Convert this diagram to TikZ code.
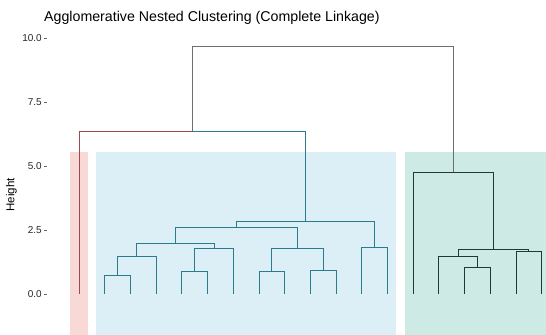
\documentclass[tikz,border=0pt]{standalone}
\usepackage{fontspec}
\setmainfont{Liberation Sans}
\usepackage{tikz}
\usetikzlibrary{calc}
\definecolor{kirmiziDal}{HTML}{9A4A50}
\definecolor{maviDal}{HTML}{2A7B8C}
\definecolor{yesilDal}{HTML}{1F3A32}
\definecolor{kirmiziKutu}{HTML}{F8D9D5}
\definecolor{maviKutu}{HTML}{DCEEF6}
\definecolor{yesilKutu}{HTML}{CDEBE4}
\definecolor{kokDal}{HTML}{6E6E6E}
% birlesme noktasi: ad, sol, sag, yukseklik
\newcommand{\birles}[4]{\path ($(#2)!.5!(#3)$) coordinate (tmp);
  \coordinate (#1) at (tmp |- 0,#4);}

\begin{document}
\begin{tikzpicture}[x=1pt,y=25.6pt,
  dal/.style={line width=0.75pt},
  kirmizidal/.style={dal,kirmiziDal},
  mavidal/.style={dal,maviDal},
  yesildal/.style={dal,yesilDal},
  kokdal/.style={dal,kokDal}]
\useasboundingbox (0,-1.6016) rectangle (546,11.484);
% kume kutulari
\fill[kirmiziKutu] (70.3,-1.6016) rectangle (87.7,5.55);
\fill[maviKutu] (96,-1.6016) rectangle (396,5.55);
\fill[yesilKutu] (405,-1.6016) rectangle (546,5.55);
% eksen
\foreach \h/\t in {0/0.0,2.5/2.5,5/5.0,7.5/7.5,10/10.0}{
  \node[anchor=east,inner sep=0pt,font=\fontsize{10}{11}\selectfont,black!85] at (42,\h) {\t};
  \draw[black!60,line width=0.5pt] (44,\h)--(47,\h);
}
\node[rotate=90,font=\fontsize{11.5}{12}\selectfont] at (11.5,3.87) {Height};
\node[anchor=west,inner sep=0pt,font=\fontsize{14.2}{16}\selectfont] at (44,10.8) {Agglomerative Nested Clustering (Complete Linkage)};
% yapraklar
\foreach \i in {1,...,19} \coordinate (l\i) at ({79+(\i-1)*25.7},0);
% mavi kume
\birles{a}{l2}{l3}{0.73}
\birles{b}{a}{l4}{1.45}
\birles{c}{l5}{l6}{0.89}
\birles{d}{c}{l7}{1.79}
\birles{e}{b}{d}{1.96}
\birles{f}{l8}{l9}{0.89}
\birles{g}{l10}{l11}{0.93}
\birles{hh}{f}{g}{1.79}
\birles{ii}{e}{hh}{2.61}
\birles{j}{l12}{l13}{1.81}
\birles{k}{ii}{j}{2.85}
\birles{m}{l1}{k}{6.37}
% yesil kume
\birles{n}{l16}{l17}{1.05}
\birles{o}{l15}{n}{1.46}
\birles{p}{l18}{l19}{1.65}
\birles{q}{o}{p}{1.76}
\birles{r}{l14}{q}{4.75}
\birles{kok}{m}{r}{9.69}
\draw[mavidal] (l2) |- (a) -| (l3);
\draw[mavidal] (a) |- (b) -| (l4);
\draw[mavidal] (l5) |- (c) -| (l6);
\draw[mavidal] (c) |- (d) -| (l7);
\draw[mavidal] (b) |- (e) -| (d);
\draw[mavidal] (l8) |- (f) -| (l9);
\draw[mavidal] (l10) |- (g) -| (l11);
\draw[mavidal] (f) |- (hh) -| (g);
\draw[mavidal] (e) |- (ii) -| (hh);
\draw[mavidal] (l12) |- (j) -| (l13);
\draw[mavidal] (ii) |- (k) -| (j);
\draw[mavidal] (k) |- (m);
\draw[kirmizidal] (l1) |- (m);
\draw[yesildal] (l16) |- (n) -| (l17);
\draw[yesildal] (l15) |- (o) -| (n);
\draw[yesildal] (l18) |- (p) -| (l19);
\draw[yesildal] (o) |- (q) -| (p);
\draw[yesildal] (l14) |- (r) -| (q);
\draw[kokdal] (m) |- (kok) -| (r);
\end{tikzpicture}
\end{document}
